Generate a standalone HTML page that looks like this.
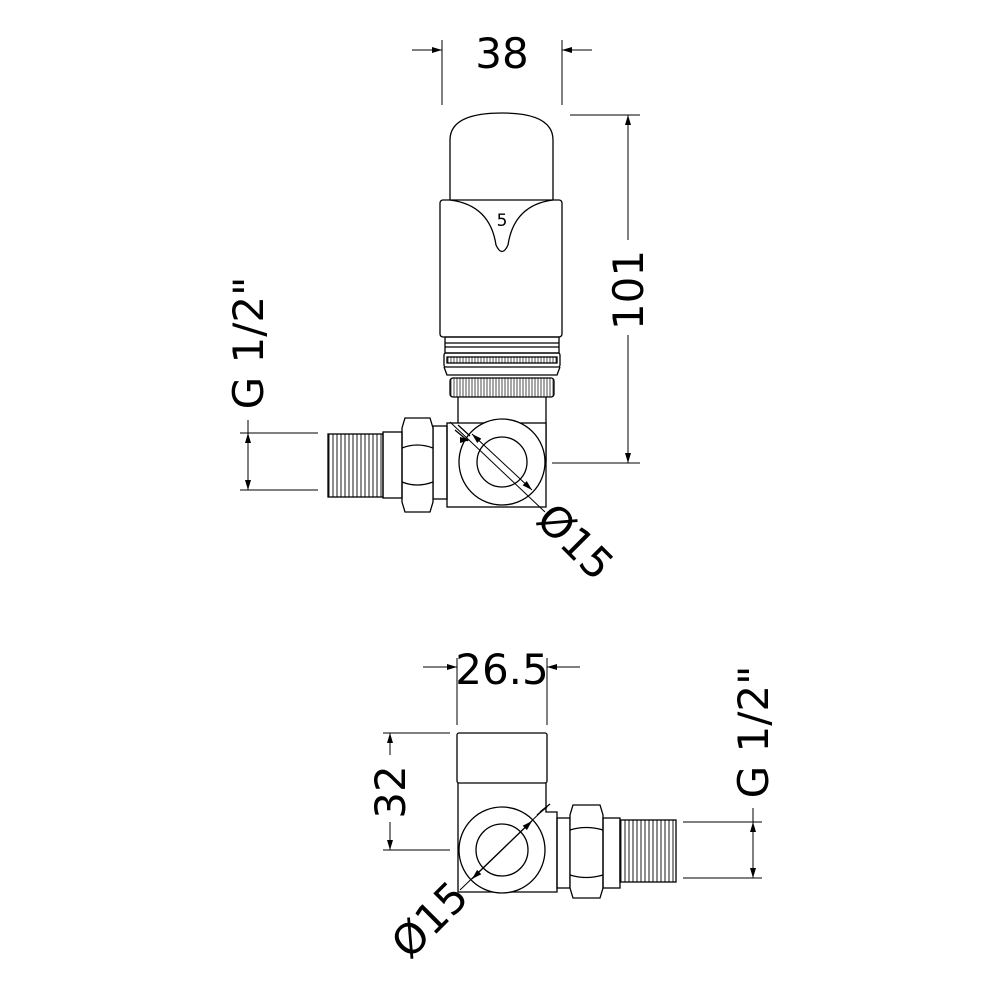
<!DOCTYPE html>
<html><head><style>html,body{margin:0;padding:0;background:#fff}svg{display:block}</style></head>
<body>
<svg width="1000" height="1000" viewBox="0 0 1000 1000" xmlns="http://www.w3.org/2000/svg">
<defs>
<marker id="a" viewBox="0 0 10 10" refX="10" refY="5" markerWidth="10" markerHeight="10" markerUnits="userSpaceOnUse" orient="auto"><path d="M0,2 L10,5 L0,8 z" fill="#000"/></marker>
<pattern id="th" width="4" height="10" patternUnits="userSpaceOnUse"><line x1="1" y1="0" x2="1" y2="10" stroke="#000" stroke-width="0.9"/></pattern>
<pattern id="kn" width="3" height="10" patternUnits="userSpaceOnUse"><line x1="1" y1="0" x2="1" y2="10" stroke="#000" stroke-width="0.7"/></pattern>
</defs>
<g fill="none" stroke="#000" stroke-width="1.3">
<!-- TOP VALVE -->
<path d="M450,200 L450,140 Q450,113 502,113 Q553,113 553,140 L553,200"/>
<rect x="440" y="200" width="122" height="137" rx="3"/>
<path d="M450,200 Q490,205 496,245 Q502,258 508,245 Q514,205 553,200"/>
<rect x="445" y="337" width="114" height="16"/>
<line x1="445" y1="343" x2="559" y2="343"/><line x1="445" y1="347" x2="559" y2="347"/>
<rect x="444" y="353" width="116" height="14" rx="2"/>
<rect x="447" y="357" width="110" height="6" fill="url(#kn)"/>
<path d="M444,367 L447,375 L557,375 L560,367"/>
<rect x="450" y="378" width="104" height="19" rx="3" fill="url(#kn)"/>
<line x1="458" y1="397" x2="458" y2="425"/>
<line x1="546" y1="397" x2="546" y2="462"/>
<rect x="447" y="423" width="99" height="84" fill="#fff"/>
<circle cx="502" cy="462" r="43" fill="#fff"/>
<circle cx="502" cy="462" r="25"/>
<line x1="458" y1="425" x2="470" y2="436"/>
<line x1="455" y1="430" x2="468" y2="441"/>
<line x1="450" y1="422" x2="545" y2="512" stroke-width="1"/>
<line x1="470" y1="440" x2="470" y2="440" marker-end="url(#a)"/>
<line x1="502" y1="462" x2="472" y2="434" marker-end="url(#a)" stroke-width="1"/>
<line x1="502" y1="462" x2="532" y2="490" marker-end="url(#a)" stroke-width="1"/>
<rect x="433" y="426" width="14" height="73"/>
<path d="M405,418 L430,418 L433,428 L433,502 L430,512 L405,512 L402,502 L402,428 Z" fill="#fff"/>
<path d="M402,448 Q417,442 433,448 M402,482 Q417,488 433,482"/>
<rect x="383" y="432" width="19" height="66"/>
<rect x="328" y="434" width="55" height="63" fill="url(#th)"/>
<!-- top dims -->
<line x1="442" y1="40" x2="442" y2="105" stroke-width="1"/>
<line x1="562" y1="40" x2="562" y2="105" stroke-width="1"/>
<line x1="412" y1="50" x2="442" y2="50" marker-end="url(#a)" stroke-width="1"/>
<line x1="592" y1="50" x2="562" y2="50" marker-end="url(#a)" stroke-width="1"/>
<line x1="570" y1="115" x2="640" y2="115" stroke-width="1"/>
<line x1="552" y1="463" x2="640" y2="463" stroke-width="1"/>
<line x1="628" y1="240" x2="628" y2="115" marker-end="url(#a)" stroke-width="1"/>
<line x1="628" y1="335" x2="628" y2="463" marker-end="url(#a)" stroke-width="1"/>
<line x1="240" y1="433" x2="318" y2="433" stroke-width="1"/>
<line x1="240" y1="490" x2="318" y2="490" stroke-width="1"/>
<line x1="248" y1="420" x2="248" y2="433" stroke-width="1"/>
<line x1="248" y1="461" x2="248" y2="433" marker-end="url(#a)" stroke-width="1"/>
<line x1="248" y1="461" x2="248" y2="490" marker-end="url(#a)" stroke-width="1"/>
<!-- BOTTOM VALVE -->
<rect x="457" y="733" width="90" height="50" rx="2"/>
<path d="M458,783 L458,892 L557,892 L557,812 L546,812 L546,783"/>
<circle cx="502" cy="850" r="43" fill="#fff"/>
<circle cx="502" cy="850" r="26"/>
<line x1="545" y1="808" x2="460" y2="890" stroke-width="1"/>
<line x1="540" y1="812" x2="550" y2="804"/>
<line x1="537" y1="815" x2="547" y2="807"/>
<line x1="502" y1="850" x2="532" y2="821" marker-end="url(#a)" stroke-width="1"/>
<line x1="502" y1="850" x2="472" y2="879" marker-end="url(#a)" stroke-width="1"/>
<rect x="557" y="818" width="13" height="70"/>
<path d="M573,805 L600,805 L603,815 L603,888 L600,898 L573,898 L570,888 L570,815 Z" fill="#fff"/>
<path d="M570,830 Q586,825 603,830 M570,875 Q586,880 603,875"/>
<rect x="603" y="818" width="17" height="70"/>
<rect x="620" y="820" width="56" height="62" fill="url(#th)"/>
<!-- bottom dims -->
<line x1="457" y1="658" x2="457" y2="725" stroke-width="1"/>
<line x1="547" y1="658" x2="547" y2="725" stroke-width="1"/>
<line x1="423" y1="667" x2="457" y2="667" marker-end="url(#a)" stroke-width="1"/>
<line x1="580" y1="667" x2="547" y2="667" marker-end="url(#a)" stroke-width="1"/>
<line x1="383" y1="733" x2="450" y2="733" stroke-width="1"/>
<line x1="383" y1="850" x2="450" y2="850" stroke-width="1"/>
<line x1="390" y1="755" x2="390" y2="733" marker-end="url(#a)" stroke-width="1"/>
<line x1="390" y1="822" x2="390" y2="850" marker-end="url(#a)" stroke-width="1"/>
<line x1="683" y1="822" x2="762" y2="822" stroke-width="1"/>
<line x1="683" y1="878" x2="762" y2="878" stroke-width="1"/>
<line x1="753" y1="808" x2="753" y2="822" stroke-width="1"/>
<line x1="753" y1="850" x2="753" y2="822" marker-end="url(#a)" stroke-width="1"/>
<line x1="753" y1="850" x2="753" y2="878" marker-end="url(#a)" stroke-width="1"/>
</g>
<g font-family="'DejaVu Sans','Liberation Sans',sans-serif" fill="#000" text-anchor="middle">
<text x="502" y="226" font-size="17">5</text>
<text x="502" y="68" font-size="42">38</text>
<text transform="translate(643,290) rotate(-90)" font-size="42">101</text>
<text transform="translate(263,343) rotate(-90)" font-size="42">G 1/2"</text>
<text transform="translate(565,552) rotate(45)" font-size="42">Ø15</text>
<text x="502" y="684" font-size="42">26.5</text>
<text transform="translate(405,792) rotate(-90)" font-size="42">32</text>
<text transform="translate(768,732) rotate(-90)" font-size="42">G 1/2"</text>
<text transform="translate(440,930) rotate(-45)" font-size="42">Ø15</text>
</g>
</svg>
</body></html>
